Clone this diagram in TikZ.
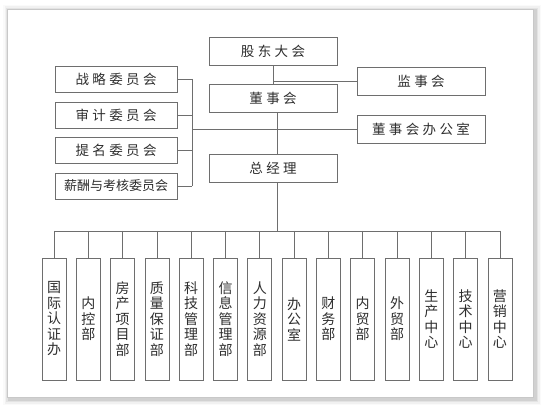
\documentclass[tikz,border=0pt]{standalone}
\usepackage{fontspec}
\newfontfamily\cjk{Noto Sans CJK SC}
\newfontfamily\cjkwide[LetterSpace=25]{Noto Sans CJK SC}
\definecolor{lineagris}{HTML}{6E6E6E}
\definecolor{textogris}{HTML}{2E2E2E}
\definecolor{marcogris}{HTML}{C8C8C8}
\tikzset{
  caja/.style={draw=lineagris,line width=0.8pt,fill=white,text=textogris,
    minimum width=128,minimum height=28,inner sep=0pt,
    font=\cjkwide\fontsize{13.5}{15}\selectfont},
  comite/.style={caja,minimum width=122,minimum height=26},
  depto/.style={draw=lineagris,line width=0.8pt,fill=white,text=textogris,
    minimum width=24,minimum height=122,inner sep=0pt,align=center,
    font=\cjk\fontsize{14}{15.5}\selectfont},
  linea/.style={lineagris,line width=0.8pt}
}
\begin{document}
\begin{tikzpicture}[x=1pt,y=-1pt]

    \def\yBus{231}
    \def\xBr{192}

    %fondo
    \useasboundingbox (0,0) rectangle (544,406);
    \fill[white] (0,0) rectangle (544,406);
    \foreach \s/\o in {6/8,4.5/14,3/22,1.5/32}{
        \fill[black,opacity=\o/400] (7-\s+2,9-\s+2) rectangle (533+\s+2,397+\s+2);
    }
    \draw[marcogris,fill=white] (7,9) rectangle (533,397);

    %cajas superiores
    \node[caja] (gd) at (273,51) {股东大会};
    \node[caja] (dsh) at (273,98.5) {董事会};
    \node[caja] (zj) at (273,168) {总经理};
    \node[caja] (js) at (421,81) {监事会};
    \node[caja] (bgs) at (421,129) {董事会办公室};

    %comites
    \node[comite] (wy1) at (116,79) {战略委员会};
    \node[comite] (wy2) at (116,115) {审计委员会};
    \node[comite] (wy3) at (116,150.5) {提名委员会};
    \node[comite,font=\cjk\fontsize{13}{15}\selectfont] (wy4) at (116,186) {薪酬与考核委员会};

    %departamentos
    \foreach \nombre [count=\i] in {{国\\际\\认\\证\\办},{内\\控\\部},{房\\产\\项\\目\\部},
        {质\\量\\保\\证\\部},{科\\技\\管\\理\\部},{信\\息\\管\\理\\部},{人\\力\\资\\源\\部},
        {办\\公\\室},{财\\务\\部},{内\\贸\\部},{外\\贸\\部},{生\\产\\中\\心},
        {技\\术\\中\\心},{营\\销\\中\\心}}{
        \node[depto] (d\i) at ({54+(\i-1)*34.3},319) {\nombre};
    }

    %conexiones
    \coordinate (bus) at (0,\yBus);
    \coordinate (br) at (\xBr,0);
    \draw[linea] (gd.south) -- (dsh.north);
    \draw[linea] (gd.south |- js.west) -- (js.west);
    \draw[linea] ([xshift=4]dsh.south) -- ([xshift=4]zj.north);
    \draw[linea] (br |- bgs.west) -- (bgs.west);
    \foreach \i in {1,...,4}{
        \draw[linea] (wy\i.east) -- (wy\i.east -| br);
    }
    \draw[linea] (wy1.east -| br) -- (wy4.east -| br);
    \draw[linea] ([xshift=4]zj.south) -- ([xshift=4]zj.south |- bus);
    \draw[linea] (d1.north |- bus) -- (d14.north |- bus);
    \foreach \i in {1,...,14}{
        \draw[linea] (d\i.north |- bus) -- (d\i.north);
    }

\end{tikzpicture}
\end{document}
